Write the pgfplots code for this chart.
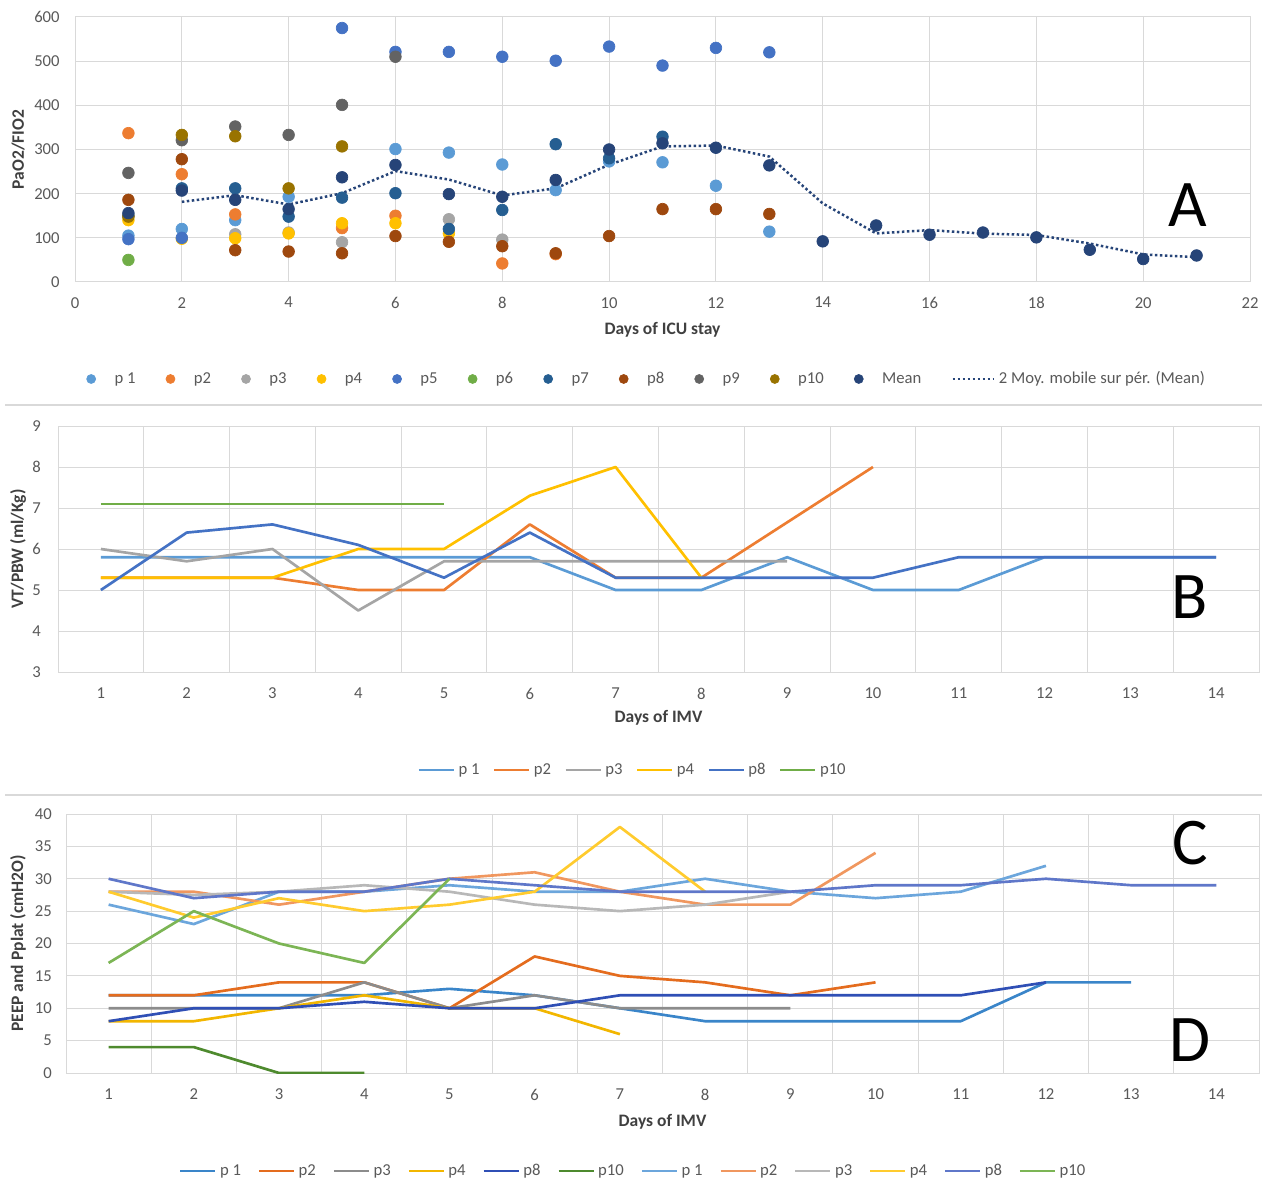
\documentclass[border=0pt]{standalone}
\usepackage{pgfplots}
\pgfplotsset{compat=1.18}
\usepackage{fontspec}
\setmainfont{Carlito}
\definecolor{c1}{HTML}{5B9BD5}
\definecolor{c2}{HTML}{ED7D31}
\definecolor{c3}{HTML}{A5A5A5}
\definecolor{c4}{HTML}{FFC000}
\definecolor{c5}{HTML}{4472C4}
\definecolor{c6}{HTML}{70AD47}
\definecolor{c7}{HTML}{255E91}
\definecolor{c8}{HTML}{9E480E}
\definecolor{c9}{HTML}{636363}
\definecolor{c10}{HTML}{997300}
\definecolor{c11}{HTML}{264478}
\definecolor{d1}{HTML}{3A85C9}
\definecolor{d2}{HTML}{E46C1E}
\definecolor{d3}{HTML}{8C8C8C}
\definecolor{d4}{HTML}{F2B600}
\definecolor{d8}{HTML}{2F4FB5}
\definecolor{d10}{HTML}{4E8A2E}
\definecolor{e1}{HTML}{6CA6DC}
\definecolor{e2}{HTML}{F0975F}
\definecolor{e3}{HTML}{B8B8B8}
\definecolor{e4}{HTML}{FFCB2E}
\definecolor{e8}{HTML}{5F77C9}
\definecolor{e10}{HTML}{7CB555}
\definecolor{gridc}{HTML}{D9D9D9}
\definecolor{tickc}{HTML}{595959}
\definecolor{labc}{HTML}{404040}
\pgfplotsset{
  base/.style={scale only axis, anchor=south west,
    axis line style={gridc, line width=0.6pt},
    grid style={gridc, line width=0.6pt},
    major tick style={draw=none}, minor tick style={draw=none},
    ticklabel style={font=\fontsize{10}{12}\selectfont, text=tickc},
    /pgf/number format/assume math mode=true,
    label style={font=\bfseries\fontsize{10.5}{12}\selectfont, text=labc},
    legend style={draw=none, fill=none, font=\fontsize{10}{12}\selectfont, text=tickc},
    legend cell align=left},
  catx/.style={xmin=0.5, xmax=14.5, xtick={1,...,14},
    minor xtick={1.5,2.5,...,13.5}, xminorgrids=true, ymajorgrids=true,
    xticklabel style={yshift=-6pt}},
  ln/.style={line width=1.6pt, line join=round},
  mk/.style={only marks, mark=*, mark size=3.5pt, color=#1, mark options={fill=#1, draw=#1},
    legend image code/.code={\path[draw=none, fill=none] (-3pt,0pt) -- (12pt,0pt); \fill[#1] (0pt,0pt) circle[radius=2.7pt];}},
  lineleg/.style={legend image code/.code={\draw[##1] (0pt,0pt) -- (21pt,0pt);}}
}
\begin{document}
\begin{tikzpicture}
\useasboundingbox (0,0) rectangle (759.6pt,709.8pt);
\draw[gridc, line width=0.8pt] (3pt,466.8pt) -- (757pt,466.8pt);
\draw[gridc, line width=0.8pt] (3pt,232.8pt) -- (757pt,232.8pt);
% ---------------- Panel A ----------------
\begin{axis}[base, at={(45pt,540.6pt)}, width=705pt, height=159pt,
  xmin=0, xmax=22, ymin=0, ymax=600,
  xtick={0,2,...,22}, ytick={0,100,...,600}, grid=major,
  xticklabel style={yshift=-5.6pt}, yticklabel style={xshift=-5.7pt},
  xlabel={Days of ICU stay}, ylabel={PaO2/FIO2},
  xlabel style={at={(axis description cs:0.5,-0.181)}, anchor=center},
  ylabel style={at={(axis description cs:-0.0485,0.5)}, anchor=center},
  legend columns=12,
  legend style={at={(axis description cs:0.487,-0.366)}, anchor=center,
    /tikz/every even column/.append style={column sep=16pt}}]
\addplot[mk=c1] coordinates {(1,105)(2,120)(3,140)(4,193)(6,301)(7,293)(8,266)(9,208)(10,273)(11,271)(12,218)(13,114)};
\addlegendentry{p 1}
\addplot[mk=c2] coordinates {(1,337)(2,244)(3,153)(5,122)(6,150)(8,42)(9,63)};
\addlegendentry{p2}
\addplot[mk=c3] coordinates {(3,108)(4,112)(5,90)(7,142)(8,96)};
\addlegendentry{p3}
\addplot[mk=c4] coordinates {(1,140)(2,98)(3,99)(4,110)(5,133)(6,133)(7,110)};
\addlegendentry{p4}
\addplot[mk=c5] coordinates {(1,97)(2,100)(5,575)(6,521)(7,521)(8,510)(9,501)(10,533)(11,490)(12,530)(13,520)};
\addlegendentry{p5}
\addplot[mk=c6] coordinates {(1,50)};
\addlegendentry{p6}
\addplot[mk=c7] coordinates {(1,150)(2,212)(3,212)(4,148)(5,191)(6,201)(7,120)(8,163)(9,312)(10,280)(11,329)};
\addlegendentry{p7}
\addplot[mk=c8] coordinates {(1,186)(2,278)(3,72)(4,69)(5,65)(6,104)(7,91)(8,81)(9,65)(10,104)(11,165)(12,165)(13,154)};
\addlegendentry{p8}
\addplot[mk=c9] coordinates {(1,247)(2,321)(3,352)(4,333)(5,401)(6,510)};
\addlegendentry{p9}
\addplot[mk=c10] coordinates {(1,148)(2,333)(3,330)(4,212)(5,307)};
\addlegendentry{p10}
\addplot[mk=c11] coordinates {(1,156)(2,207)(3,186)(4,165)(5,237)(6,265)(7,199)(8,193)(9,231)(10,300)(11,314)(12,304)(13,264)(14,92)(15,128)(16,107)(17,112)(18,101)(19,73)(20,52)(21,60)};
\addlegendentry{Mean}
\addplot[c11, no marks, sharp plot, line width=1.5pt, dash pattern=on 1.5pt off 1.5pt,
  legend image code/.code={\draw[c11, line width=1.5pt, dash pattern=on 1.5pt off 1.5pt] (0pt,0pt) -- (25pt,0pt);}] coordinates {(2,181.5)(3,196.5)(4,175.5)(5,201)(6,251)(7,232)(8,196)(9,212)(10,265.5)(11,307)(12,309)(13,284)(14,178)(15,110)(16,117.5)(17,109.5)(18,106.5)(19,87)(20,62.5)(21,56)};
\addlegendentry{2 Moy. mobile sur pér. (Mean)}
\node[font=\fontsize{40}{40}\selectfont] at (axis cs:20.84,174) {A};
\end{axis}
% ---------------- Panel B ----------------
\begin{axis}[base, catx, at={(34.8pt,306.6pt)}, width=720.6pt, height=147.6pt,
  ymin=3, ymax=9, ytick={3,...,9}, yticklabel style={xshift=-6.7pt},
  xlabel={Days of IMV}, ylabel={VT/PBW (ml/Kg)},
  xlabel style={at={(axis description cs:0.5,-0.187)}, anchor=center},
  ylabel style={at={(axis description cs:-0.0333,0.5)}, anchor=center},
  legend columns=6, lineleg,
  legend style={at={(axis description cs:0.479,-0.398)}, anchor=center,
    /tikz/every even column/.append style={column sep=6pt}}]
\addplot[ln, c1] coordinates {(1,5.8)(2,5.8)(3,5.8)(4,5.8)(5,5.8)(6,5.8)(7,5.0)(8,5.0)(9,5.8)(10,5.0)(11,5.0)(12,5.8)(13,5.8)(14,5.8)};
\addlegendentry{p 1}
\addplot[ln, c2] coordinates {(1,5.3)(2,5.3)(3,5.3)(4,5.0)(5,5.0)(6,6.6)(7,5.3)(8,5.3)(9,6.65)(10,8.0)};
\addlegendentry{p2}
\addplot[ln, c3] coordinates {(1,6.0)(2,5.7)(3,6.0)(4,4.5)(5,5.7)(6,5.7)(7,5.7)(8,5.7)(9,5.7)};
\addlegendentry{p3}
\addplot[ln, c4] coordinates {(1,5.3)(2,5.3)(3,5.3)(4,6.0)(5,6.0)(6,7.3)(7,8.0)(8,5.3)};
\addlegendentry{p4}
\addplot[ln, c5] coordinates {(1,5.0)(2,6.4)(3,6.6)(4,6.1)(5,5.3)(6,6.4)(7,5.3)(8,5.3)(9,5.3)(10,5.3)(11,5.8)(12,5.8)(13,5.8)(14,5.8)};
\addlegendentry{p8}
\addplot[ln, c6] coordinates {(1,7.1)(2,7.1)(3,7.1)(4,7.1)(5,7.1)};
\addlegendentry{p10}
\node[font=\fontsize{40}{40}\selectfont] at (axis cs:13.69,4.83) {B};
\end{axis}
% ---------------- Panel C/D ----------------
\begin{axis}[base, catx, at={(39.6pt,66pt)}, width=715.8pt, height=155.4pt,
  ymin=0, ymax=40, ytick={0,5,...,40}, yticklabel style={xshift=-5pt},
  xlabel={Days of IMV}, ylabel={PEEP and Pplat (cmH2O)},
  xlabel style={at={(axis description cs:0.5,-0.189)}, anchor=center},
  ylabel style={at={(axis description cs:-0.0402,0.5)}, anchor=center},
  legend columns=12, lineleg,
  legend style={at={(axis description cs:0.476,-0.378)}, anchor=center,
    /tikz/every even column/.append style={column sep=8pt}}]
\addplot[ln, d1] coordinates {(1,12)(2,12)(3,12)(4,12)(5,13)(6,12)(7,10)(8,8)(9,8)(10,8)(11,8)(12,14)(13,14)};
\addlegendentry{p 1}
\addplot[ln, d2] coordinates {(1,12)(2,12)(3,14)(4,14)(5,10)(6,18)(7,15)(8,14)(9,12)(10,14)};
\addlegendentry{p2}
\addplot[ln, d3] coordinates {(1,10)(2,10)(3,10)(4,14)(5,10)(6,12)(7,10)(8,10)(9,10)};
\addlegendentry{p3}
\addplot[ln, d4] coordinates {(1,8)(2,8)(3,10)(4,12)(5,10)(6,10)(7,6)};
\addlegendentry{p4}
\addplot[ln, d8] coordinates {(1,8)(2,10)(3,10)(4,11)(5,10)(6,10)(7,12)(8,12)(9,12)(10,12)(11,12)(12,14)};
\addlegendentry{p8}
\addplot[ln, d10] coordinates {(1,4)(2,4)(3,0)(4,0)};
\addlegendentry{p10}
\addplot[ln, e1] coordinates {(1,26)(2,23)(3,28)(4,28)(5,29)(6,28)(7,28)(8,30)(9,28)(10,27)(11,28)(12,32)};
\addlegendentry{p 1}
\addplot[ln, e2] coordinates {(1,28)(2,28)(3,26)(4,28)(5,30)(6,31)(7,28)(8,26)(9,26)(10,34)};
\addlegendentry{p2}
\addplot[ln, e3] coordinates {(1,28)(2,27.5)(3,28)(4,29)(5,28)(6,26)(7,25)(8,26)(9,28)};
\addlegendentry{p3}
\addplot[ln, e4] coordinates {(1,28)(2,24)(3,27)(4,25)(5,26)(6,28)(7,38)(8,28)};
\addlegendentry{p4}
\addplot[ln, e8] coordinates {(1,30)(2,27)(3,28)(4,28)(5,30)(6,29)(7,28)(8,28)(9,28)(10,29)(11,29)(12,30)(13,29)(14,29)};
\addlegendentry{p8}
\addplot[ln, e10] coordinates {(1,17)(2,25)(3,20)(4,17)(5,30)};
\addlegendentry{p10}
\node[font=\fontsize{40}{40}\selectfont] at (axis cs:13.69,35.5) {C};
\node[font=\fontsize{40}{40}\selectfont] at (axis cs:13.69,5.1) {D};
\end{axis}
\end{tikzpicture}
\end{document}
